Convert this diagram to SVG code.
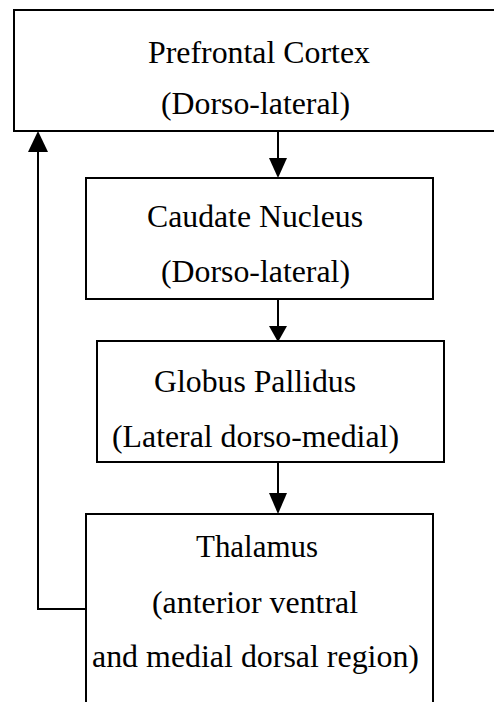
<svg xmlns="http://www.w3.org/2000/svg" width="494" height="702" viewBox="0 0 494 702">
<style>
.box{fill:#fff;stroke:#000;stroke-width:2}
.t{font-family:"Liberation Serif","Times New Roman",serif;font-size:32px;fill:#000;text-anchor:middle}
.ln{fill:none;stroke:#000;stroke-width:2}
.hd{fill:#000;stroke:none}
</style>
<rect width="494" height="702" fill="#fff"/>
<g id="prefrontal">
<rect class="box" x="14" y="10" width="500" height="121"/>
<text class="t" x="259" y="63" textLength="222" lengthAdjust="spacingAndGlyphs">Prefrontal Cortex</text>
<text class="t" x="255.5" y="114" textLength="189" lengthAdjust="spacingAndGlyphs">(Dorso-lateral)</text>
</g>
<g id="caudate">
<rect class="box" x="86" y="178" width="347" height="121"/>
<text class="t" x="255" y="227" textLength="216" lengthAdjust="spacingAndGlyphs">Caudate Nucleus</text>
<text class="t" x="255.5" y="282" textLength="189" lengthAdjust="spacingAndGlyphs">(Dorso-lateral)</text>
</g>
<g id="globus">
<rect class="box" x="97" y="341" width="347" height="121"/>
<text class="t" x="255" y="392" textLength="202" lengthAdjust="spacingAndGlyphs">Globus Pallidus</text>
<text class="t" x="255.5" y="447" textLength="287" lengthAdjust="spacingAndGlyphs">(Lateral dorso-medial)</text>
</g>
<g id="thalamus">
<rect class="box" x="86" y="514" width="347" height="200"/>
<text class="t" x="257" y="557" textLength="122" lengthAdjust="spacingAndGlyphs">Thalamus</text>
<text class="t" x="255" y="613" textLength="206" lengthAdjust="spacingAndGlyphs">(anterior ventral</text>
<text class="t" x="255.5" y="667" textLength="327" lengthAdjust="spacingAndGlyphs">and medial dorsal region)</text>
</g>
<g id="connectors">
<line class="ln" x1="278" y1="131" x2="278" y2="160"/>
<polygon class="hd" points="269,158 287,158 278,178"/>
<line class="ln" x1="278" y1="299" x2="278" y2="327"/>
<polygon class="hd" points="269,326 287,326 278,342"/>
<line class="ln" x1="278" y1="462" x2="278" y2="495"/>
<polygon class="hd" points="269,493 287,493 278,514"/>
<polyline class="ln" points="86,609 38,609 38,150"/>
<polygon class="hd" points="28,152 48,152 38,131"/>
</g>
</svg>
